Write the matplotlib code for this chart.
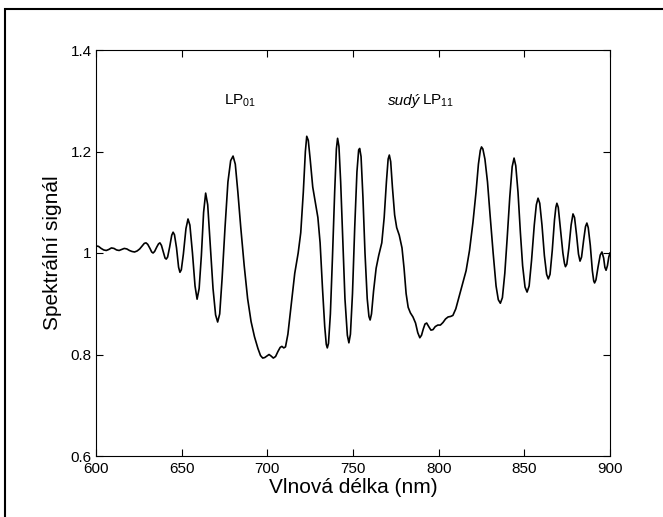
import matplotlib
matplotlib.use("Agg")
import matplotlib.pyplot as plt
from matplotlib.patches import Rectangle

plt.rcParams['font.family'] = ['Liberation Sans', 'DejaVu Sans']
plt.rcParams['mathtext.fontset'] = 'custom'
plt.rcParams['mathtext.rm'] = 'Liberation Sans'

wavelength = [600, 601.5, 603, 604.5, 606, 607.5, 609, 610.5, 612, 613.5, 615, 616.5, 618, 619.5,
              621, 622.5, 624, 625.5, 627, 628.2, 629.2, 630.2, 631.5, 632.5, 633.3, 634.2, 635.5,
              636.5, 637.3, 638.2, 639.5, 640.3, 641, 641.8, 643, 644.2, 645, 645.8, 647, 648.2,
              649, 649.8, 651, 652.5, 653.7, 654.8, 656.3, 657.8, 659, 660.2, 661.5, 662.8, 664,
              665.2, 666.6, 668.3, 669.8, 671, 672.2, 673.6, 675.3, 677, 678.6, 680, 681.3, 682.8,
              684.5, 686.5, 688.5, 690.5, 692.5, 694.5, 696, 697.3, 698.5, 699.8, 701, 702.2, 703.5,
              704.8, 706.2, 707.5, 708.5, 709.6, 710.6, 712, 714, 716, 718, 719.5, 721, 722.2, 723,
              723.9, 725, 726.5, 728, 729.5, 730.8, 732.2, 733.5, 734.4, 735, 735.7, 736.8, 738,
              739.3, 740.3, 741, 741.8, 742.8, 744, 745.3, 746.7, 747.6, 748.5, 749.7, 751, 752.3,
              753.3, 753.9, 754.7, 755.8, 757, 758.3, 759.3, 760, 760.8, 762, 763.5, 765, 766.8,
              768.2, 769.5, 770.5, 771.2, 772, 773, 774.3, 775.5, 777, 778.6, 779.8, 781, 782.2,
              783.5, 785, 786.5, 787.8, 789, 790, 791, 792, 793, 794.2, 795.5, 796.7, 798, 799.5,
              801, 802.5, 804, 805.5, 807, 808.3, 810, 812, 814, 816, 818, 820, 821.8, 823.2, 824.3,
              825, 825.8, 827, 828.5, 830, 831.8, 833.5, 834.8, 836, 837.2, 838.6, 840, 841.5,
              842.9, 844, 845, 846.3, 847.7, 849, 850.4, 851.6, 852.8, 854.2, 855.8, 857, 858, 859,
              860.3, 861.7, 863, 864, 865, 866.3, 867.6, 868.4, 869, 869.8, 871, 872.5, 873.4, 874,
              874.8, 876, 877.3, 878.4, 879.3, 880.5, 881.6, 882.5, 883.4, 884.6, 885.7, 886.5,
              887.3, 888.5, 889.7, 890.5, 891, 891.8, 893, 894.3, 895.3, 896.3, 897, 897.7, 898.5,
              899.3, 900]
signal = [1.014, 1.013, 1.009, 1.006, 1.005, 1.007, 1.010, 1.009, 1.006, 1.005, 1.007, 1.009, 1.008,
          1.005, 1.003, 1.002, 1.004, 1.008, 1.014, 1.019, 1.020, 1.017, 1.009, 1.002, 1.000, 1.003,
          1.012, 1.018, 1.020, 1.015, 1.000, 0.990, 0.988, 0.992, 1.012, 1.035, 1.041, 1.036, 1.010,
          0.972, 0.962, 0.967, 0.998, 1.048, 1.067, 1.055, 1.000, 0.935, 0.909, 0.930, 0.995, 1.080,
          1.118, 1.095, 1.020, 0.930, 0.878, 0.864, 0.880, 0.950, 1.050, 1.140, 1.182, 1.191, 1.175,
          1.120, 1.050, 0.975, 0.910, 0.865, 0.835, 0.812, 0.798, 0.793, 0.794, 0.797, 0.800, 0.797,
          0.793, 0.796, 0.806, 0.814, 0.816, 0.813, 0.815, 0.840, 0.900, 0.960, 1.000, 1.040, 1.120,
          1.200, 1.230, 1.222, 1.185, 1.130, 1.100, 1.070, 1.020, 0.930, 0.855, 0.820, 0.813, 0.822,
          0.880, 0.990, 1.120, 1.205, 1.226, 1.210, 1.140, 1.030, 0.910, 0.838, 0.823, 0.840, 0.920,
          1.050, 1.160, 1.203, 1.206, 1.190, 1.110, 1.000, 0.910, 0.875, 0.868, 0.880, 0.925, 0.970,
          0.995, 1.020, 1.070, 1.140, 1.185, 1.193, 1.180, 1.130, 1.075, 1.050, 1.035, 1.010, 0.970,
          0.920, 0.893, 0.882, 0.874, 0.862, 0.843, 0.833, 0.838, 0.850, 0.860, 0.862, 0.855, 0.848,
          0.849, 0.855, 0.858, 0.858, 0.863, 0.870, 0.874, 0.875, 0.877, 0.890, 0.915, 0.940, 0.965,
          1.005, 1.060, 1.120, 1.175, 1.202, 1.209, 1.205, 1.185, 1.140, 1.075, 1.000, 0.935, 0.908,
          0.901, 0.912, 0.960, 1.030, 1.110, 1.170, 1.187, 1.172, 1.120, 1.040, 0.975, 0.933, 0.923,
          0.935, 0.985, 1.055, 1.095, 1.108, 1.098, 1.055, 0.995, 0.958, 0.949, 0.958, 1.005, 1.065,
          1.090, 1.098, 1.090, 1.050, 1.000, 0.980, 0.973, 0.978, 1.010, 1.055, 1.077, 1.070, 1.035,
          0.998, 0.984, 0.992, 1.025, 1.052, 1.059, 1.050, 1.015, 0.965, 0.945, 0.941, 0.947, 0.972,
          0.996, 1.002, 0.990, 0.972, 0.966, 0.975, 0.992, 1.000]

x_ticks = [600, 650, 700, 750, 800, 850, 900]
y_ticks = [0.6, 0.8, 1.0, 1.2, 1.4]
y_tick_labels = ['0.6', '0.8', '1', '1.2', '1.4']

fig = plt.figure(figsize=(6.63, 5.17), dpi=100)
ax = fig.add_axes([96/663, 1-456/517, (610-96)/663, (456-50)/517])

ax.plot(wavelength, signal, color='black', linewidth=1.2, solid_joinstyle='round')
ax.set_xlim(600, 900)
ax.set_ylim(0.6, 1.4)
ax.set_xticks(x_ticks)
ax.set_yticks(y_ticks)
ax.set_yticklabels(y_tick_labels)
ax.tick_params(direction='in', top=True, right=True, length=5, width=0.8, labelsize=11)
ax.tick_params(axis='x', pad=4)
ax.tick_params(axis='y', pad=3)
for s in ax.spines.values():
    s.set_linewidth(0.8)

ax.set_xlabel('Vlnová délka (nm)', fontsize=15, labelpad=2)
ax.set_ylabel('Spektrální signál', fontsize=15, labelpad=6)

ax.text(684, 1.30, r'LP$_{\mathregular{01}}$', fontsize=11, ha='center', va='center')
ax.text(789, 1.30, 'sudý', fontsize=11, style='italic', ha='right', va='center')
ax.text(790.5, 1.30, r'LP$_{\mathregular{11}}$', fontsize=11, ha='left', va='center')

fig.patches.append(Rectangle((5/663, -0.2), 1.5, 1.2 - 9/517, transform=fig.transFigure,
                             fill=False, edgecolor='black', linewidth=1.5))

fig.savefig('out.png', dpi=100)
